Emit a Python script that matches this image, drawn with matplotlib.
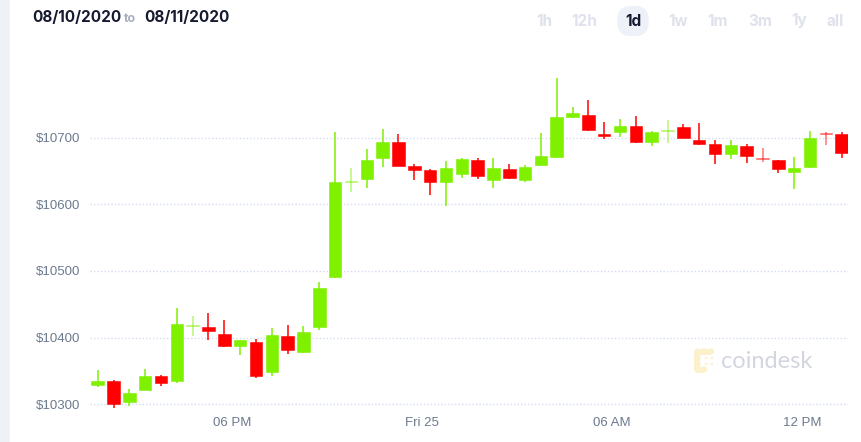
import matplotlib
matplotlib.use("Agg")
import matplotlib.pyplot as plt
import numpy as np
from matplotlib.patches import Rectangle, Circle

# ---- data (30-minute candles, 08/10/2020 -> 08/11/2020) ----
opens = [10329, 10335, 10303, 10322, 10343, 10335, 10417, 10416, 10406, 10388,
         10393, 10348, 10402, 10378, 10416, 10491, 10633, 10638, 10670, 10694,
         10657, 10652, 10634, 10646, 10667, 10636, 10653, 10637, 10659, 10671,
         10730, 10734, 10705, 10709, 10717, 10693, 10710, 10716, 10696, 10690,
         10675, 10688, 10669, 10666, 10648, 10656, 10706, 10706]
highs = [10351, 10336, 10323, 10353, 10344, 10445, 10433, 10437, 10427, 10397,
         10398, 10415, 10419, 10418, 10483, 10708, 10654, 10683, 10713, 10705,
         10661, 10653, 10665, 10670, 10669, 10669, 10660, 10659, 10707, 10789,
         10746, 10756, 10723, 10728, 10732, 10710, 10726, 10720, 10721, 10697,
         10696, 10691, 10685, 10667, 10671, 10710, 10708, 10709]
lows = [10326, 10295, 10298, 10321, 10328, 10332, 10403, 10396, 10386, 10374,
        10340, 10342, 10375, 10377, 10412, 10490, 10619, 10625, 10656, 10657,
        10637, 10614, 10597, 10640, 10638, 10625, 10638, 10634, 10658, 10670,
        10729, 10710, 10698, 10701, 10692, 10687, 10692, 10699, 10689, 10661,
        10668, 10662, 10664, 10647, 10623, 10655, 10689, 10670]
closes = [10335, 10301, 10317, 10342, 10332, 10420, 10418, 10410, 10387, 10396,
          10343, 10404, 10381, 10408, 10474, 10633, 10634, 10667, 10693, 10658,
          10651, 10634, 10654, 10668, 10642, 10654, 10640, 10656, 10673, 10731,
          10737, 10711, 10703, 10717, 10693, 10709, 10711, 10700, 10691, 10676,
          10689, 10673, 10668, 10653, 10654, 10699, 10705, 10677]

y_ticks = [10300, 10400, 10500, 10600, 10700]
y_labels = ["$10300", "$10400", "$10500", "$10600", "$10700"]
x_tick_pos = [8.5, 20.5, 32.5, 44.5]
x_tick_labels = ["06 PM", "Fri 25", "06 AM", "12 PM"]
ranges = ["1h", "12h", "1d", "1w", "1m", "3m", "1y", "all"]

GREEN = "#7ef000"
RED = "#ff0000"

W, H = 862, 442
fig = plt.figure(figsize=(W / 100, H / 100), dpi=100)
fig.patch.set_facecolor("white")

# left grey strip
fig.patches.append(Rectangle((0, 0), 10 / W, 1, transform=fig.transFigure,
                             facecolor="#eef2f7", edgecolor="none", zorder=0))

ax = fig.add_axes([90 / W, 31 / H, 758 / W, 340.2 / H])
ax.set_facecolor("none")
for s in ax.spines.values():
    s.set_visible(False)

bw = 0.79
for i, (o, h, l, c) in enumerate(zip(opens, highs, lows, closes)):
    col = GREEN if c >= o else RED
    doji = abs(c - o) < 2
    a = 0.55 if doji else 1.0
    ax.vlines(i, l, h, color=col, linewidth=1.1, alpha=a, zorder=3)
    bot = min(o, c)
    hgt = max(abs(c - o), 1.2)
    ax.add_patch(Rectangle((i - bw / 2, bot), bw, hgt, facecolor=col,
                           edgecolor=col, linewidth=0.4, alpha=a, zorder=4))

ax.set_xlim(-0.486, 47.40)
ax.set_ylim(10290, 10800)
ax.set_yticks(y_ticks)
ax.set_yticklabels(y_labels)
ax.set_xticks(x_tick_pos)
ax.set_xticklabels(x_tick_labels)
ax.tick_params(axis="both", length=0, colors="#6c7a8e", labelsize=9.5)
ax.tick_params(axis="y", pad=6.8)
ax.tick_params(axis="x", pad=4.5)
for lab in ax.get_xticklabels() + ax.get_yticklabels():
    lab.set_fontfamily("Liberation Sans")
ax.yaxis.grid(True, color="#d3dcf0", linestyle=(0, (1, 1.5)), linewidth=1.0, zorder=0)
ax.xaxis.grid(False)
ax.set_axisbelow(True)

# header
fig.text(32 / W, 1 - 18 / H, "08/10/2020", fontsize=11, fontweight="bold",
         family=["Inter", "DejaVu Sans"], color="#151a30", va="center", ha="left")
fig.text(124 / W, 1 - 19 / H, "to", fontsize=9, fontweight="bold",
         family=["Inter", "DejaVu Sans"], color="#a7afbf", va="center", ha="left")
fig.text(144 / W, 1 - 18 / H, "08/11/2020", fontsize=11, fontweight="bold",
         family=["Inter", "DejaVu Sans"], color="#151a30", va="center", ha="left")

range_x = [544, 584, 633, 678, 718, 760, 799, 835]
for lab, px in zip(ranges, range_x):
    if lab == "1d":
        fig.text(px / W, 1 - 21 / H, lab, fontsize=11, fontweight="bold",
                 family=["Inter", "DejaVu Sans"], color="#151a30",
                 va="center", ha="center",
                 bbox=dict(boxstyle="round,pad=0.5,rounding_size=0.9",
                           fc="#eef2f8", ec="none"))
    else:
        fig.text(px / W, 1 - 21 / H, lab, fontsize=11, fontweight="bold",
                 family=["Inter", "DejaVu Sans"], color="#dfe2ec",
                 va="center", ha="center")

# coindesk watermark
fig.text(721 / W, 1 - 361 / H, "coindesk", fontsize=17,
         family=["Lato", "DejaVu Sans"], color="#d3d6de", va="center", ha="left")
lax = fig.add_axes([694 / W, (H - 373) / H, 22 / W, 25 / H])
lax.set_xlim(0, 22)
lax.set_ylim(0, 25)
lax.axis("off")
LOGO = "#fdf1cc"
for (cx, cy, r) in [(3.5, 21.5, 3.2), (10, 21.5, 3.2), (17, 21.5, 3.2),
                    (3.5, 15, 3.2), (3.5, 9, 3.2), (3.5, 3.5, 3.2),
                    (10, 3.5, 3.2), (12, 15, 1.3), (18, 15, 1.3),
                    (12, 9, 1.3), (18, 9, 1.3)]:
    lax.add_patch(Circle((cx, cy), r, facecolor=LOGO, edgecolor="none"))
lax.add_patch(Rectangle((0.5, 3.5), 6, 18, facecolor=LOGO, edgecolor="none"))
lax.add_patch(Rectangle((3.5, 18.5), 13.5, 6, facecolor=LOGO, edgecolor="none"))
lax.add_patch(Rectangle((3.5, 0.5), 6.5, 6, facecolor=LOGO, edgecolor="none"))

fig.savefig("out.png", dpi=100, facecolor="white")
